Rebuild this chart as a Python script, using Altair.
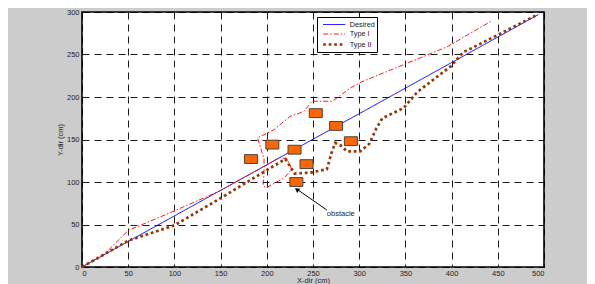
import altair as alt
import pandas as pd

series_names = ["Desired", "Type I", "Type II"]
series_colors = ["#0000ff", "#ff0000", "#993300"]

desired_x = [0, 494]
desired_y = [0, 297]

type1_x = [0, 24, 50, 100, 150, 195, 214, 222, 227, 219, 199, 196, 197, 197, 190, 207, 225, 240, 249, 271, 291, 303, 348, 395, 444]
type1_y = [0, 15, 43, 66, 90, 117, 129, 127, 115, 105, 93, 96, 112, 127, 152, 161, 177, 183, 195, 195, 211, 218, 238, 259, 290]

type2_x = [0, 50, 100, 150, 200, 220, 226, 230, 247, 265, 270, 274, 280, 287, 301, 311, 318, 325, 348, 363, 399, 413, 421, 493]
type2_y = [0, 31, 49, 81, 114, 127, 117, 110, 111, 115, 134, 146, 143, 136, 136, 145, 162, 175, 187, 206, 236, 253, 257, 297]

obstacle_x = [183, 206, 230, 243, 232, 253, 275, 291]
obstacle_y = [127, 144, 138, 121, 100, 181, 166, 148]

note_text = ["obstacle"]
note_x = [265]
note_y = [62]
arrow_x = [265]
arrow_y = [67]
arrow_x2 = [232]
arrow_y2 = [92]
head_x = [232.5]
head_y = [91]

x_ticks = list(range(0, 501, 50))
y_ticks = list(range(0, 301, 50))

rows = []
for name, xs, ys in [("Desired", desired_x, desired_y), ("Type I", type1_x, type1_y), ("Type II", type2_x, type2_y)]:
    for i, (a, b) in enumerate(zip(xs, ys)):
        rows.append({"series": name, "x": a, "y": b, "idx": i})
lines_df = pd.DataFrame(rows)
obs_df = pd.DataFrame({"x": obstacle_x, "y": obstacle_y})
note_df = pd.DataFrame({"text": note_text, "x": note_x, "y": note_y})
arrow_df = pd.DataFrame({"x": arrow_x, "y": arrow_y, "x2": arrow_x2, "y2": arrow_y2})
head_df = pd.DataFrame({"x": head_x, "y": head_y})

FONT = "Liberation Sans"

xscale = alt.Scale(domain=[0, 500], nice=False)
yscale = alt.Scale(domain=[0, 300], nice=False)

x_axis = alt.Axis(values=x_ticks, title="X-dir (cm)", grid=True, gridDash=[7, 5], gridColor="#000000",
                  gridWidth=0.9, ticks=False, domain=False, labelFont=FONT, labelFontSize=7.5,
                  labelColor="#222222", labelPadding=2, titleFont=FONT, titleFontSize=7.5,
                  titleFontWeight="normal", titleColor="#222222", titlePadding=0)
y_axis = alt.Axis(values=y_ticks, title="Y-dir (cm)", grid=True, gridDash=[7, 5], gridColor="#000000",
                  gridWidth=0.9, ticks=False, domain=False, labelFont=FONT, labelFontSize=7.5,
                  labelColor="#222222", labelPadding=3, titleFont=FONT, titleFontSize=7.5,
                  titleFontWeight="normal", titleColor="#222222", titlePadding=2)

legend = alt.Legend(title=None, orient="none", legendX=235, legendY=5,
                    symbolType="M-2.2,0L2.2,0", symbolSize=100, symbolOffset=8.7,
                    labelFont=FONT, labelFontSize=7.3, labelColor="#222222",
                    strokeColor="#000000", fillColor="#ffffff", padding=2, rowPadding=0.5,
                    labelOffset=9, cornerRadius=0)

lines = alt.Chart(lines_df).mark_line(strokeCap="butt", strokeJoin="miter").encode(
    x=alt.X("x:Q", scale=xscale, axis=x_axis),
    y=alt.Y("y:Q", scale=yscale, axis=y_axis),
    color=alt.Color("series:N", scale=alt.Scale(domain=series_names, range=series_colors), legend=legend),
    strokeDash=alt.StrokeDash("series:N", scale=alt.Scale(domain=series_names, range=[[1, 0], [5, 2, 1.5, 2], [2.7, 2.8]]), legend=legend),
    strokeWidth=alt.StrokeWidth("series:N", scale=alt.Scale(type="ordinal", domain=series_names, range=[1, 0.9, 2.7]), legend=legend),
    order="idx:Q",
)

rect_path = "M-1,-0.68L1,-0.68L1,0.68L-1,0.68Z"
obstacles = alt.Chart(obs_df).mark_point(shape=rect_path, size=169, filled=True, fill="#ff6600",
                                         stroke="#444444", strokeWidth=1, opacity=1, fillOpacity=1).encode(
    x=alt.X("x:Q", scale=xscale), y=alt.Y("y:Q", scale=yscale))

arrow = alt.Chart(arrow_df).mark_rule(color="#000000", strokeWidth=1).encode(
    x=alt.X("x:Q", scale=xscale), y=alt.Y("y:Q", scale=yscale), x2="x2:Q", y2="y2:Q")

head = alt.Chart(head_df).mark_point(shape="triangle-up", size=28, filled=True, color="#000000",
                                     opacity=1, angle=304).encode(
    x=alt.X("x:Q", scale=xscale), y=alt.Y("y:Q", scale=yscale))

note = alt.Chart(note_df).mark_text(align="left", baseline="middle", font=FONT, fontSize=7.5,
                                    color="#222222").encode(
    x=alt.X("x:Q", scale=xscale), y=alt.Y("y:Q", scale=yscale), text="text:N")

chart = alt.layer(lines, obstacles, arrow, head, note).properties(
    width=462, height=255,
    autosize=alt.AutoSizeParams(type="none"),
    padding={"left": 74, "top": 4, "right": 43, "bottom": 17},
    background="#cccccc",
).configure_view(fill="#ffffff", stroke="#000000", strokeWidth=1.6)

chart.save("out.html", embed_options={"renderer": "svg", "actions": False})
